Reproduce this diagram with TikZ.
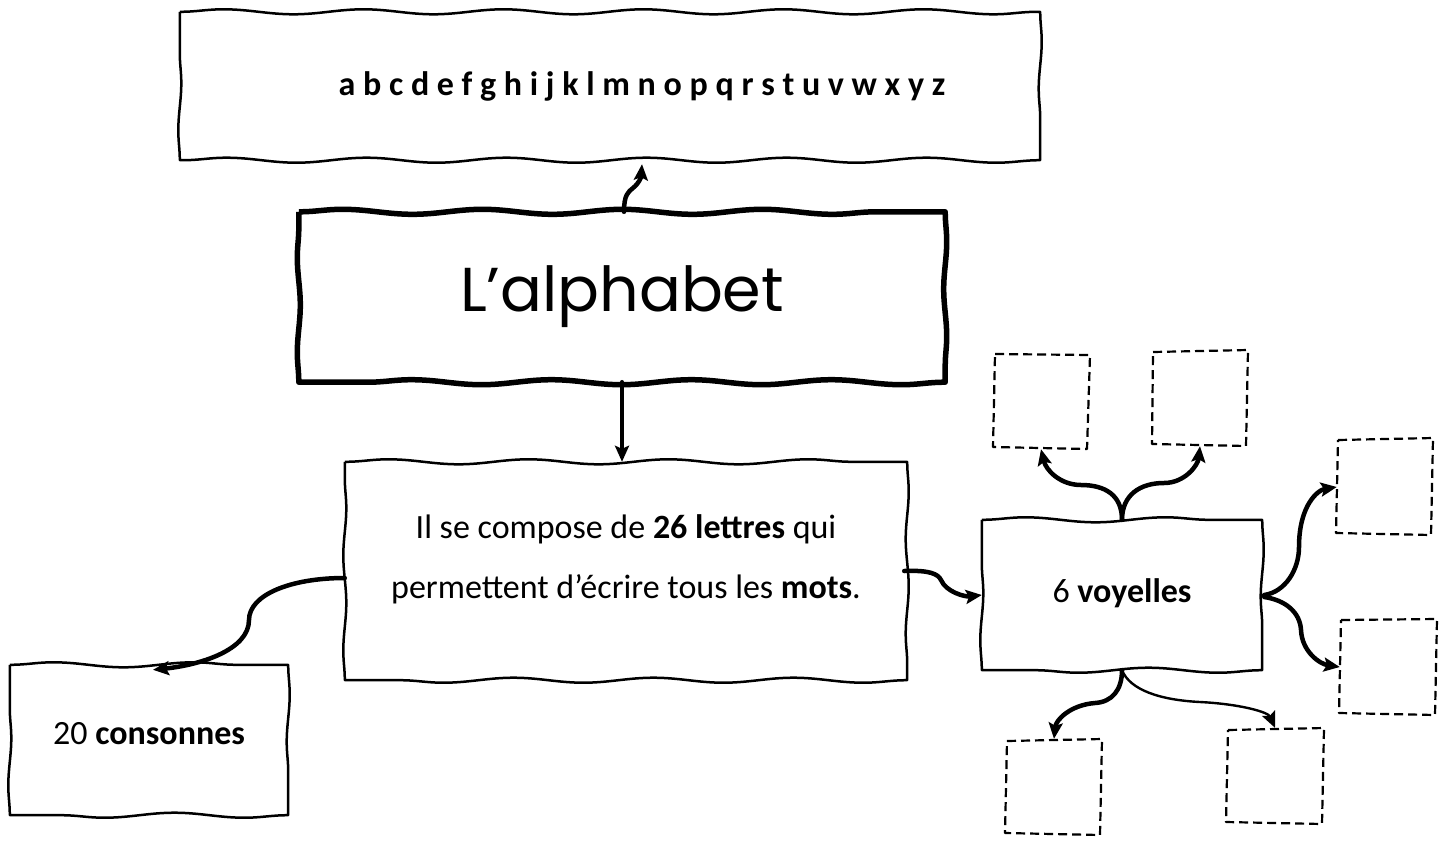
\documentclass[tikz,border=0pt]{standalone}
\usepackage{fontspec}
\setmainfont{Carlito}
\newfontfamily\titlefont{Poppins}
\usetikzlibrary{arrows.meta,decorations.pathmorphing,calc}
\newcommand\wavyrect[2][]{%
  \draw[#1] (#2.north west)
    decorate[decoration={snake,segment length=140pt,amplitude=2.5pt}]{-- (#2.north east)}
    decorate[decoration={snake,segment length=95pt,amplitude=1.5pt}]{-- (#2.south east)}
    decorate[decoration={snake,segment length=140pt,amplitude=2.5pt}]{-- (#2.south west)}
    decorate[decoration={snake,segment length=95pt,amplitude=1.5pt}]{-- (#2.north west)};%
}
% lift text by #1 inside a vertically centred node (adds depth 2*#1)
\newcommand\liftby[2]{\raisebox{0pt}[\height][\dimexpr\depth+2\dimexpr#1\relax\relax]{#2}}
\begin{document}
\begin{tikzpicture}[x=1pt,y=-1pt,
  box/.style={rectangle, draw=none, inner sep=0pt, align=center,
    font=\fontsize{34}{60}\selectfont},
  outline/.style={line width=2.5pt, line join=round},
  thickoutline/.style={line width=5.5pt, line join=round},
  dashbox/.style={line width=2.2pt, dash pattern=on 9pt off 5pt, line join=round},
  slot/.style={rectangle, draw=none, minimum width=96pt, minimum height=96pt, inner sep=0pt},
  arr/.style={line width=4.5pt, line cap=round, -{Stealth[length=16pt,width=14pt,inset=3pt]}},
  thinarr/.style={line width=2.4pt, line cap=round, -{Stealth[length=16pt,width=14pt,inset=3pt]}}
]
\useasboundingbox (0,0) rectangle (1448,841);

% nodes
\node[box, minimum width=860pt, minimum height=148pt, font=\fontsize{34}{40}\selectfont\bfseries]
  (top) at (610,86) {\hspace*{64pt}a b c d e f g h i j k l m n o p q r s t u v w x y z};
\node[box, minimum width=646pt, minimum height=170pt, font=\fontsize{62}{70}\titlefont]
  (title) at (622,297) {L’alphabet};
\node[box, minimum width=562pt, minimum height=218pt]
  (central) at (626,571) {\liftby{15pt}{\begin{tabular}{@{}c@{}}Il se compose de \textbf{26 lettres} qui\\ permettent d’écrire tous les \textbf{mots}.\end{tabular}}};
\node[box, minimum width=278pt, minimum height=150pt]
  (cons) at (149,740) {\liftby{6pt}{20 \textbf{consonnes}}};
\node[box, minimum width=280pt, minimum height=150pt]
  (voy) at (1122,595) {\liftby{2pt}{6 \textbf{voyelles}}};

\node[slot] (d1) at (1041,401) {};
\node[slot] (d2) at (1200,398) {};
\node[slot] (d3) at (1385,487) {};
\node[slot] (d4) at (1388,667) {};
\node[slot] (d5) at (1054,787) {};
\node[slot] (d6) at (1275,776) {};

% outlines
\wavyrect[outline]{top}
\wavyrect[thickoutline]{title}
\wavyrect[outline]{central}
\wavyrect[outline]{cons}
\wavyrect[outline]{voy}

\draw[dashbox] (995,354) -- (1090,355) -- (1087,449) -- (993,447) -- cycle;
\draw[dashbox] (1153,352) -- (1248,350) -- (1246,446) -- (1152,444) -- cycle;
\draw[dashbox] (1338,440) -- (1433,438) -- (1431,535) -- (1336,533) -- cycle;
\draw[dashbox] (1341,620) -- (1437,619) -- (1435,715) -- (1339,713) -- cycle;
\draw[dashbox] (1007,741) -- (1102,739) -- (1100,835) -- (1005,833) -- cycle;
\draw[dashbox] (1228,730) -- (1324,728) -- (1322,824) -- (1226,822) -- cycle;

% connectors
\draw[arr] ($(title.north)+(2,0)$) .. controls (624,195) and (628,192) .. (633,188)
  .. controls (639,183) and (641,178) .. ($(top.south)+(32,4)$);
\draw[arr] (title.south) -- (title.south |- central.north);
\draw[arr] ($(central.west)+(0,7)$) .. controls (290,578) and (249,595) .. (249,620)
  .. controls (249,650) and (200,665) .. ($(cons.north)+(4,5)$);
\draw[arr] ($(central.east)+(-3,0)$) .. controls (930,570) and (938,574) .. (941,580)
  .. controls (946,592) and (965,597) .. (voy.west);
\draw[arr] (voy.north) .. controls (1122,495) and (1105,485) .. (1081,485)
  .. controls (1060,485) and (1046,470) .. (d1.south);
\draw[arr] (voy.north) .. controls (1122,495) and (1140,483) .. (1164,483)
  .. controls (1185,483) and (1198,465) .. (d2.south);
\draw[arr] ($(voy.east)+(2,0)$) .. controls (1285,592) and (1299,570) .. (1299,547)
  .. controls (1299,505) and (1318,490) .. (d3.west);
\draw[arr] ($(voy.east)+(2,2)$) .. controls (1285,600) and (1300,612) .. (1301,630)
  .. controls (1302,652) and (1320,664) .. (d4.west);
\draw[arr] (voy.south) .. controls (1122,690) and (1112,702) .. (1095,703)
  .. controls (1070,705) and (1056,720) .. (d5.north);
\draw[thinarr] (voy.south) .. controls (1130,690) and (1160,700) .. (1200,702)
  .. controls (1240,704) and (1268,712) .. (d6.north);
\end{tikzpicture}
\end{document}
